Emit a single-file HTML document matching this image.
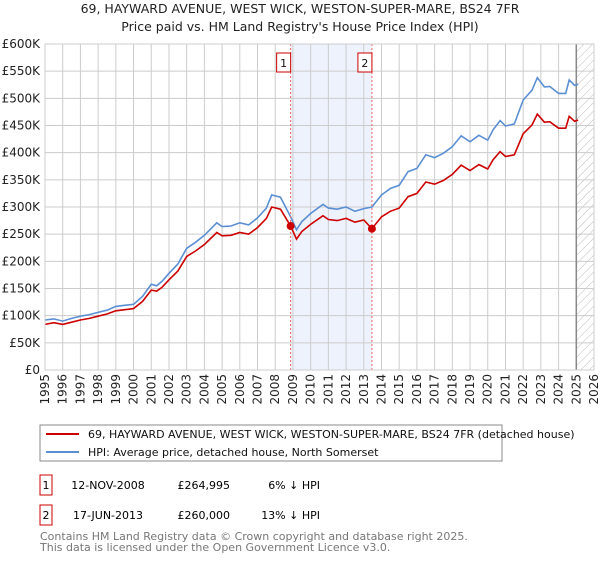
<!DOCTYPE html>
<html><head><meta charset="utf-8"><style>
body{margin:0;background:#fff;width:600px;height:560px;overflow:hidden;font-family:"DejaVu Sans","Liberation Sans",sans-serif}
svg text{font-family:"DejaVu Sans","Liberation Sans",sans-serif}
</style></head><body>
<svg id="c" width="600" height="560" xmlns="http://www.w3.org/2000/svg">
<defs><pattern id="hatch" width="6" height="6" patternUnits="userSpaceOnUse" patternTransform="rotate(45)"><line x1="0" y1="0" x2="0" y2="6" stroke="#bbb" stroke-width="1"/></pattern></defs>
<text x="300" y="13" text-anchor="middle" font-size="12.5" fill="#222">69, HAYWARD AVENUE, WEST WICK, WESTON-SUPER-MARE, BS24 7FR</text>
<text x="300" y="31" text-anchor="middle" font-size="12.5" fill="#222">Price paid vs. HM Land Registry's House Price Index (HPI)</text>
<g id="grid"></g><g id="marks"></g>
<rect x="40" y="425" width="462" height="36" fill="#fff" stroke="#888"/>
<line x1="46" y1="434" x2="79" y2="434" stroke="#cc0000" stroke-width="2"/>
<text x="88" y="438" font-size="11" fill="#111">69, HAYWARD AVENUE, WEST WICK, WESTON-SUPER-MARE, BS24 7FR (detached house)</text>
<line x1="46" y1="452" x2="79" y2="452" stroke="#5b8fd4" stroke-width="2"/>
<text x="88" y="456" font-size="11" fill="#111">HPI: Average price, detached house, North Somerset</text>
<g>
<rect x="40" y="475" width="12" height="20" fill="#fff" stroke="#cc0000"/><text x="46" y="489" text-anchor="middle" font-size="11">1</text>
<text x="108" y="489" text-anchor="middle" font-size="11">12-NOV-2008</text>
<text x="230" y="489" text-anchor="end" font-size="11">£264,995</text>
<text x="320" y="489" text-anchor="end" font-size="11">6% ↓ HPI</text></g>
<g>
<rect x="40" y="505" width="12" height="20" fill="#fff" stroke="#cc0000"/><text x="46" y="519" text-anchor="middle" font-size="11">2</text>
<text x="108" y="519" text-anchor="middle" font-size="11">17-JUN-2013</text>
<text x="230" y="519" text-anchor="end" font-size="11">£260,000</text>
<text x="320" y="519" text-anchor="end" font-size="11">13% ↓ HPI</text></g>
<text x="40" y="540" font-size="11" fill="#777">Contains HM Land Registry data © Crown copyright and database right 2025.</text>
<text x="40" y="551" font-size="11" fill="#777">This data is licensed under the Open Government Licence v3.0.</text>
</svg>
<script>
const hpiYears=[1995,1995.5,1996,1996.5,1997,1997.5,1998,1998.5,1999,1999.5,2000,2000.5,2001,2001.3,2001.6,2002,2002.5,2003,2003.5,2004,2004.7,2005,2005.5,2006,2006.5,2007,2007.5,2007.8,2008.3,2008.87,2009.2,2009.5,2010,2010.7,2011,2011.5,2012,2012.5,2013,2013.46,2014,2014.5,2015,2015.5,2016,2016.5,2017,2017.5,2018,2018.5,2019,2019.5,2020,2020.3,2020.7,2021,2021.5,2022,2022.5,2022.8,2023.2,2023.5,2024,2024.4,2024.6,2024.9,2025.1];
const hpiValues=[92,94,90,95,99,102,106,110,117,119,121,135,158,155,163,178,195,224,235,248,271,264,265,271,267,280,298,322,318,282,258,273,288,305,298,296,300,292,297,300,322,334,340,365,371,396,391,399,411,431,420,432,423,442,459,449,453,497,515,538,521,522,509,509,534,524,526];
const priceYears=[1995,1995.5,1996,1996.5,1997,1997.5,1998,1998.5,1999,1999.5,2000,2000.5,2001,2001.3,2001.6,2002,2002.5,2003,2003.5,2004,2004.7,2005,2005.5,2006,2006.5,2007,2007.5,2007.8,2008.3,2008.87,2009.2,2009.5,2010,2010.7,2011,2011.5,2012,2012.5,2013,2013.46,2014,2014.5,2015,2015.5,2016,2016.5,2017,2017.5,2018,2018.5,2019,2019.5,2020,2020.3,2020.7,2021,2021.5,2022,2022.5,2022.8,2023.2,2023.5,2024,2024.4,2024.6,2024.9,2025.1];
const priceValues=[84,87,84,88,92,95,99,103,109,111,113,126,147,145,152,166,182,209,219,231,253,247,248,253,250,262,279,300,296,265,241,255,268,284,277,275,279,272,276,260,282,292,298,319,325,346,342,349,360,377,367,378,370,387,402,393,396,435,451,471,456,457,445,445,467,458,460];
const saleYears=[2008.87,2013.46];
const saleValues=[264.995,260];
const saleLabels=["1","2"];
const yTicks=[0,50,100,150,200,250,300,350,400,450,500,550,600];
const yTickLabels=["£0","£50K","£100K","£150K","£200K","£250K","£300K","£350K","£400K","£450K","£500K","£550K","£600K"];
const xTicks=[1995,1996,1997,1998,1999,2000,2001,2002,2003,2004,2005,2006,2007,2008,2009,2010,2011,2012,2013,2014,2015,2016,2017,2018,2019,2020,2021,2022,2023,2024,2025,2026];
const X0=45,X1=594,Y0=370,Y1=44;
const xS=y=>X0+(y-1995)/(2026-1995)*(X1-X0);
const yS=v=>Y0-v/600*(Y0-Y1);
const NS="http://www.w3.org/2000/svg";
function mk(tag,attrs,parent,txt){const e=document.createElementNS(NS,tag);for(const k in attrs)e.setAttribute(k,attrs[k]);if(txt!==undefined)e.textContent=txt;parent.appendChild(e);return e;}
const g=document.getElementById('grid'),m=document.getElementById('marks');
let r=mk('rect',{x:xS(saleYears[0]),y:Y1,width:xS(saleYears[1])-xS(saleYears[0]),height:Y0-Y1,fill:'#eef2fc'},g);


r=mk('rect',{x:xS(2025),y:Y1,width:X1-xS(2025),height:Y0-Y1,fill:'url(#hatch)'},g);


yTicks.forEach((v,i)=>{
 const l=mk('line',{x1:X0,x2:X1,y1:yS(v),y2:yS(v),stroke:'#ccc'},g);
 
 
 const t=mk('text',{x:40,y:yS(v)+4,'text-anchor':'end','font-size':12,fill:'#222'},g,yTickLabels[i]);
 
 
});
xTicks.forEach(y=>{
 const l=mk('line',{x1:xS(y),x2:xS(y),y1:Y1,y2:Y0,stroke:'#ccc'},g);
 
 
 const t=mk('text',{x:0,y:0,'text-anchor':'end','font-size':12,fill:'#222',transform:`translate(${xS(y)+4},374) rotate(-90)`},g,String(y));
 
 
});
const vl=mk('line',{x1:xS(2025),x2:xS(2025),y1:Y1,y2:Y0,stroke:'#888','stroke-width':1.5},g);


const pts=(xs,vs)=>xs.map((y,i)=>xS(y).toFixed(1)+','+yS(vs[i]).toFixed(1)).join(' ');
const hl=mk('polyline',{points:pts(hpiYears,hpiValues),fill:'none',stroke:'#5b8fd4','stroke-width':1.6},m);


const pl=mk('polyline',{points:pts(priceYears,priceValues),fill:'none',stroke:'#cc0000','stroke-width':1.6},m);


saleYears.forEach((y,i)=>{
 const d=mk('line',{x1:xS(y),x2:xS(y),y1:Y1,y2:Y0,stroke:'#e66','stroke-dasharray':'2,2'},m);
 
 
 const c=mk('circle',{cx:xS(y),cy:yS(saleValues[i]),r:4,fill:'#cc0000'},m);
 
 
 const b=mk('rect',{x:xS(y)-14,y:53,width:14,height:19,fill:'#fff',stroke:'#cc0000'},m);
 
 
 const t=mk('text',{x:xS(y)-7,y:67,'text-anchor':'middle','font-size':11,fill:'#111'},m,saleLabels[i]);
 
 
});
const fr=mk('rect',{x:X0,y:Y1,width:X1-X0,height:Y0-Y1,fill:'none',stroke:'#ccc'},m);


</script>
</body></html>
